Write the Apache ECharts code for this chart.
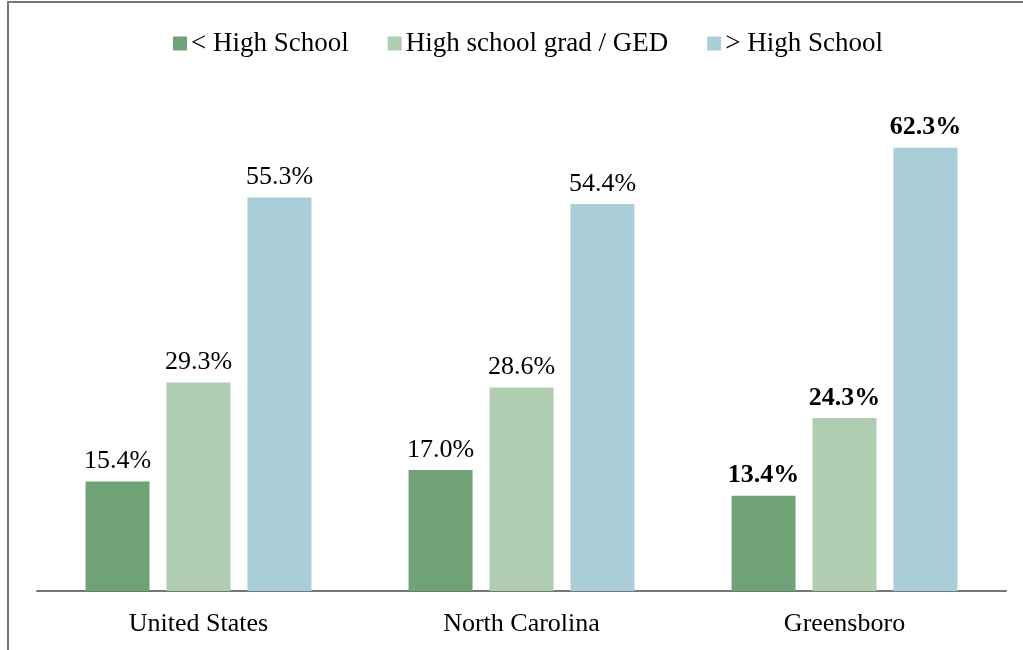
<!DOCTYPE html>
<html>
<head>
<meta charset="utf-8">
<script src="https://cdn.jsdelivr.net/npm/echarts@6/dist/echarts.min.js"></script>
<style>
  html, body { margin: 0; padding: 0; background: #fff; }
  #chart { width: 1023px; height: 650px; }
</style>
</head>
<body>
<div id="chart"></div>
<script>
// data
const places = ['United States', 'North Carolina', 'Greensboro'];
const seriesNames = ['< High School', 'High school grad / GED', '> High School'];
const lessThanHS = [15.4, 17.0, 13.4];
const hsGrad = [29.3, 28.6, 24.3];
const moreThanHS = [55.3, 54.4, 62.3];

const colors = ['#70a277', '#b0cdb1', '#a9ced7'];
const font = '"Liberation Serif", "Times New Roman", serif';

// Greensboro labels are bold
function withLabels(values) {
  return values.map((v, i) => ({
    value: v,
    label: { fontWeight: places[i] === 'Greensboro' ? 'bold' : 'normal' }
  }));
}

function makeSeries(name, values, color) {
  return {
    name: name,
    type: 'bar',
    barWidth: 64,
    barGap: '26.5%',
    itemStyle: { color: color },
    label: {
      show: true,
      position: 'top',
      distance: 7,
      color: '#000',
      fontFamily: font,
      fontSize: 26,
      formatter: p => p.value.toFixed(1) + '%'
    },
    data: withLabels(values)
  };
}

const chart = echarts.init(document.getElementById('chart'));
chart.setOption({
  animation: false,
  textStyle: { fontFamily: font },
  graphic: [{
    type: 'rect',
    shape: { x: 8, y: 2, width: 1200, height: 1000 },
    style: { fill: 'none', stroke: '#767676', lineWidth: 2 },
    silent: true
  }],
  legend: {
    left: 168,
    top: 25,
    itemWidth: 14,
    itemHeight: 14,
    itemGap: 39,
    icon: 'rect',
    textStyle: { fontFamily: font, fontSize: 27, color: '#000', padding: [0, 0, 0, -1] },
    data: seriesNames
  },
  grid: { left: 37, right: 17, top: 93, bottom: 59, containLabel: false },
  xAxis: {
    type: 'category',
    data: places,
    axisTick: { show: false },
    axisLine: { lineStyle: { color: '#767676', width: 2 } },
    axisLabel: { color: '#000', fontFamily: font, fontSize: 26, margin: 20 }
  },
  yAxis: {
    type: 'value',
    min: 0,
    max: 70,
    show: false,
    splitLine: { show: false }
  },
  series: [
    makeSeries(seriesNames[0], lessThanHS, colors[0]),
    makeSeries(seriesNames[1], hsGrad, colors[1]),
    makeSeries(seriesNames[2], moreThanHS, colors[2])
  ]
});
</script>
</body>
</html>
